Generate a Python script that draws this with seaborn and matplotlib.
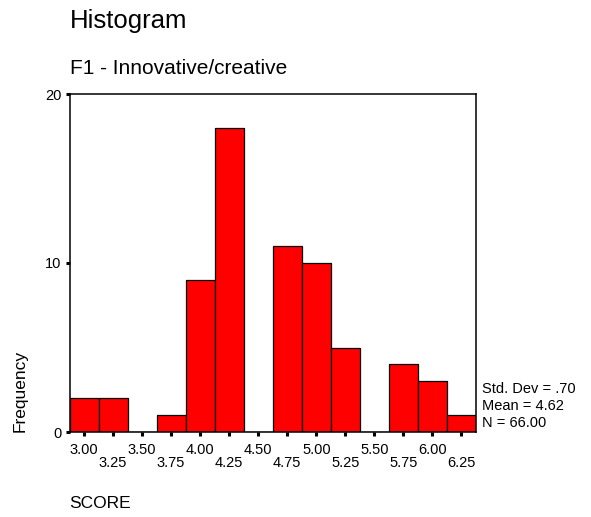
import numpy as np
import pandas as pd
import seaborn as sns
import matplotlib.pyplot as plt

out_file = "out.png"

# bin centres and counts
scores = [3.00, 3.25, 3.50, 3.75, 4.00, 4.25, 4.50, 4.75, 5.00, 5.25, 5.50, 5.75, 6.00, 6.25]
freqs = [2, 2, 0, 1, 9, 18, 0, 11, 10, 5, 0, 4, 3, 1]
tick_labels = ["3.00", "3.25", "3.50", "3.75", "4.00", "4.25", "4.50",
               "4.75", "5.00", "5.25", "5.50", "5.75", "6.00", "6.25"]
y_ticks = [0, 10, 20]
stats_lines = ["Std. Dev = .70", "Mean = 4.62", "N = 66.00"]

W, H = 591, 517


def fx(px):
    return px / W


def fy(py):
    return 1 - py / H


def plot_hist(df):
    sns.set_style("white", {"text.color": "black", "axes.labelcolor": "black",
                            "xtick.color": "black", "ytick.color": "black"})
    plt.rcParams['font.family'] = ['Liberation Sans', 'DejaVu Sans']

    fig = plt.figure(figsize=(W / 100, H / 100), dpi=100)
    ax = fig.add_axes([fx(69.5), fy(432), fx(476) - fx(69.5), fy(94) - fy(432)])

    sns.histplot(data=df, x="score", weights="freq", binwidth=0.25,
                 binrange=(2.875, 6.375), color="#ff0000", alpha=1,
                 edgecolor="black", linewidth=0.9, ax=ax)

    ax.set_xlim(2.875, 6.375)
    ax.set_ylim(0, 20)
    ax.set_xlabel("")
    ax.set_ylabel("")

    # two rows of x labels: even ones as major ticks, odd ones as minor ticks
    ax.set_xticks(scores[0::2])
    ax.set_xticklabels(tick_labels[0::2])
    ax.set_xticks(scores[1::2], minor=True)
    ax.set_xticklabels(tick_labels[1::2], minor=True)
    ax.set_yticks(y_ticks)

    ax.tick_params(axis="both", which="both", direction="out", length=3,
                   width=2.2, color="black", labelcolor="black", labelsize=10.5,
                   bottom=True, left=True)
    ax.tick_params(axis="x", which="major", pad=5)
    ax.tick_params(axis="x", which="minor", pad=14)
    ax.tick_params(axis="y", pad=3)

    for sp in ax.spines.values():
        sp.set_visible(True)
        sp.set_color("black")
        sp.set_linewidth(1.1)

    fig.text(fx(70), fy(28), "Histogram", fontsize=18.5, va="baseline", ha="left")
    fig.text(fx(70), fy(74), "F1 - Innovative/creative", fontsize=15,
             va="baseline", ha="left")
    fig.text(fx(20), fy(432), "Frequency", rotation=90, fontsize=12.5,
             ha="center", va="bottom")
    fig.text(fx(69), fy(503), "SCORE", fontsize=12.5, ha="left", va="center")

    for i, line in enumerate(stats_lines):
        fig.text(fx(482), fy(389 + 17 * i), line, fontsize=10.5,
                 ha="left", va="center")

    plt.savefig(out_file, dpi=100)


df = pd.DataFrame({"score": scores, "freq": freqs})
plot_hist(df)
